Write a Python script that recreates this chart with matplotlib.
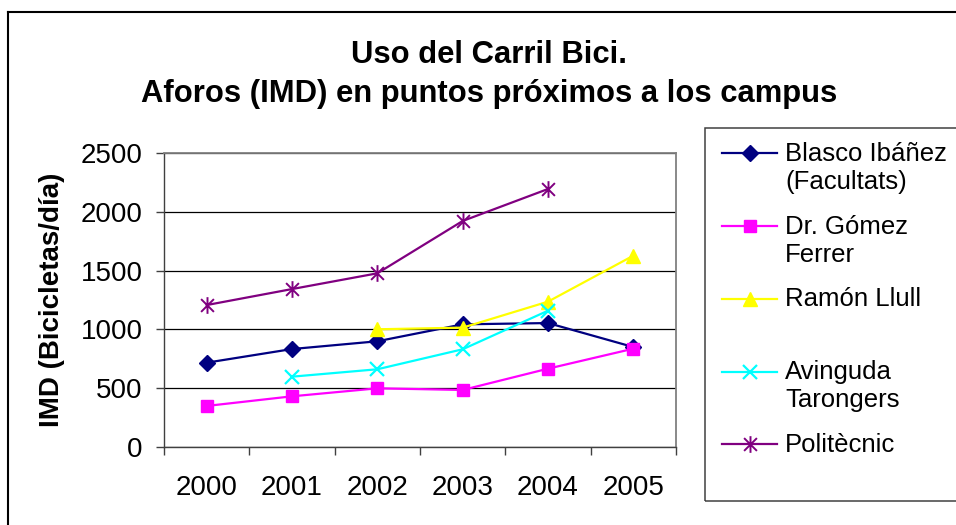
import numpy as np
import matplotlib
matplotlib.use("Agg")
import matplotlib.pyplot as plt
from matplotlib.path import Path
from matplotlib.lines import Line2D
from matplotlib.patches import Rectangle
from matplotlib.legend_handler import HandlerLine2D

plt.rcParams['font.family'] = ['Liberation Sans', 'DejaVu Sans']

# ---- data ----
years = ["2000", "2001", "2002", "2003", "2004", "2005"]
blasco = [717, 833, 899, 1043, 1054, 850]
gomez = [349, 431, 499, 485, 666, 836]
ramon = [np.nan, np.nan, 1001, 1015, 1236, 1627]
avinguda = [np.nan, 598, 661, 831, 1159, np.nan]
politecnic = [1207, 1343, 1477, 1922, 2194, np.nan]
labels = ["Blasco Ibáñez\n(Facultats)", "Dr. Gómez\nFerrer", "Ramón Llull\n ",
          "Avinguda\nTarongers", "Politècnic\n "]
title = "Uso del Carril Bici.\nAforos (IMD) en puntos próximos a los campus"
ylabel = "IMD (Bicicletas/día)"
yticks = [0, 500, 1000, 1500, 2000, 2500]

# Excel-style star marker: x plus vertical bar
star = Path([(-1, -1), (1, 1), (-1, 1), (1, -1), (0, -1.3), (0, 1.3)],
            [Path.MOVETO, Path.LINETO, Path.MOVETO, Path.LINETO, Path.MOVETO, Path.LINETO])

series = [
    (blasco, '#000080', 'D', 8.5, dict()),
    (gomez, '#FF00FF', 's', 8, dict()),
    (ramon, '#FFFF00', '^', 10, dict()),
    (avinguda, '#00FFFF', 'x', 10, dict(markeredgewidth=1.6)),
    (politecnic, '#800080', star, 12, dict(markeredgewidth=1.4)),
]

W, H = 956, 525
fig = plt.figure(figsize=(W / 100, H / 100), dpi=100)
fig.patch.set_facecolor('white')

# plot area in pixels
L, R, T, B = 164, 676, 153, 447
ax = fig.add_axes([L / W, 1 - B / H, (R - L) / W, (B - T) / H])

x = np.arange(len(years))
handles = []
for vals, col, mk, ms, kw in series:
    h, = ax.plot(x, vals, color=col, marker=mk, markersize=ms, linewidth=1.6,
                 markerfacecolor=col, markeredgecolor=col, **kw)
    handles.append(h)

ax.set_xlim(-0.5, len(years) - 0.5)
ax.set_ylim(0, 2500)
ax.set_yticks(yticks)
ax.set_yticklabels([str(v) for v in yticks])
ax.set_xticks(x)
ax.set_xticklabels(years)
ax.set_xticks(np.arange(len(years) + 1) - 0.5, minor=True)
ax.tick_params(axis='x', which='major', length=0, pad=20, labelsize=20)
ax.tick_params(axis='x', which='minor', length=6, width=1, direction='out', color='#404040')
ax.tick_params(axis='y', which='major', length=5.5, width=1, direction='out', pad=10,
               labelsize=20, color='#404040')
ax.yaxis.grid(True, color='black', linewidth=0.9)
ax.set_axisbelow(True)
for s in ['top', 'right']:
    ax.spines[s].set_color('#808080')
    ax.spines[s].set_linewidth(1.3)
for s in ['left', 'bottom']:
    ax.spines[s].set_color('#404040')
    ax.spines[s].set_linewidth(1.0)

ax.set_ylabel(ylabel, fontsize=20, fontweight='bold', va='center')
ax.yaxis.set_label_coords((52 - L) / (R - L), 0.5)

fig.text(489 / W, 1 - 40 / H, title, ha='center', va='top', fontsize=22.3,
         fontweight='bold', linespacing=1.4)


class FirstLineHandler(HandlerLine2D):
    def __init__(self, dy, **kw):
        super().__init__(**kw)
        self.dy = dy

    def create_artists(self, legend, orig_handle, xdescent, ydescent, width, height,
                       fontsize, trans):
        arts = super().create_artists(legend, orig_handle, xdescent, ydescent, width,
                                      height, fontsize, trans)
        for a in arts:
            a.set_ydata(np.asarray(a.get_ydata()) + self.dy)
        return arts


leg = fig.legend(handles, labels, loc='upper left',
                 bbox_to_anchor=(722 / W, 1 - 142 / H), frameon=False,
                 fontsize=18.5, numpoints=1, handlelength=2.15, handletextpad=0.3,
                 borderpad=0, borderaxespad=0, labelspacing=0.8,
                 handler_map={Line2D: FirstLineHandler(dy=11)})
for t in leg.get_texts():
    t.set_linespacing(1.22)

# outer chart border and legend box
fig.add_artist(Line2D([8 / W, 8 / W], [0, 1 - 12 / H], color='black', linewidth=1.5,
                      transform=fig.transFigure))
fig.add_artist(Line2D([8 / W, 1], [1 - 12 / H, 1 - 12 / H], color='black', linewidth=1.5,
                      transform=fig.transFigure))
fig.add_artist(Rectangle((705 / W, 1 - 501 / H), 300 / W, (501 - 128) / H, fill=False,
                         edgecolor='#404040', linewidth=1.1, transform=fig.transFigure))

fig.savefig('out.png', dpi=100)
